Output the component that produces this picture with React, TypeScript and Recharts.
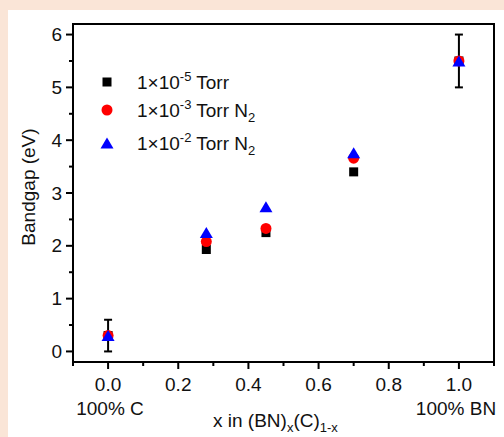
import React from "react";
import { ScatterChart, Scatter, XAxis, YAxis, ErrorBar, ReferenceArea } from "recharts";

// composition x of (BN)x(C)1-x
const xValues = [0, 0.28, 0.45, 0.7, 1.0];
const gap1e5Torr = [0.3, 1.93, 2.25, 3.4, 5.5];
const gap1e3TorrN2 = [0.3, 2.08, 2.33, 3.66, 5.5];
const gap1e2TorrN2 = [0.3, 2.25, 2.74, 3.76, 5.5];

// error bars only on the pure ends
const errX = [0, 1.0];
const errY = [0.3, 5.5];
const errSize = [0.3, 0.5];

const xTicks = [-0.1, 0, 0.1, 0.2, 0.3, 0.4, 0.5, 0.6, 0.7, 0.8, 0.9, 1.0, 1.1];
const yTicks = [0, 0.5, 1, 1.5, 2, 2.5, 3, 3.5, 4, 4.5, 5, 5.5, 6];

const toPoints = (ys: number[]) => xValues.map((x, i) => ({ x, y: ys[i] }));
const errData = errX.map((x, i) => ({ x, y: errY[i], err: errSize[i] }));

const FONT = "'Liberation Sans', Arial, sans-serif";
const INK = "#111";

const Square = ({ cx, cy }: any) => (
  <rect x={cx - 4.5} y={cy - 4.5} width={9} height={9} fill="#000" />
);
const Dot = ({ cx, cy }: any) => <circle cx={cx} cy={cy} r={5.5} fill="#ff0000" />;
const Tri = ({ cx, cy }: any) => (
  <polygon
    points={`${cx},${cy - 5.5} ${cx - 6.5},${cy + 5.5} ${cx + 6.5},${cy + 5.5}`}
    fill="#0000ff"
  />
);

const XTick = ({ x, y, payload }: any) => {
  const v = payload.value as number;
  const major = Math.round(v * 10) % 2 === 0;
  return (
    <g>
      <line x1={x} x2={x} y1={y} y2={y + (major ? 7 : 4)} stroke="#000" strokeWidth={2} />
      {major && v >= 0 && v <= 1 && (
        <text x={x} y={y + 29} textAnchor="middle" fontSize={19} fontFamily={FONT} fill={INK}>
          {v.toFixed(1)}
        </text>
      )}
    </g>
  );
};

const YTick = ({ x, y, payload }: any) => {
  const v = payload.value as number;
  const major = v % 1 === 0;
  return (
    <g>
      <line x1={x - (major ? 7 : 4)} x2={x} y1={y} y2={y} stroke="#000" strokeWidth={2} />
      {major && (
        <text x={x - 11} y={y + 6.5} textAnchor="end" fontSize={19} fontFamily={FONT} fill={INK}>
          {v}
        </text>
      )}
    </g>
  );
};

export default function App() {
  return (
    <div style={{ position: "absolute", left: 0, top: 0, width: 504, height: 437, background: "#fae5d7" }}>
      <div style={{ position: "absolute", left: 8, top: 10, right: 0, bottom: 0, background: "#fff" }} />
      <div style={{ position: "absolute", left: 0, top: 0 }}>
        <ScatterChart width={504} height={437} margin={{ top: 24, right: 10, left: 13, bottom: 45 }}>
          <XAxis
            type="number"
            dataKey="x"
            domain={[-0.1, 1.1]}
            ticks={xTicks}
            interval={0}
            allowDataOverflow
            axisLine={false}
            tickLine={false}
            tickSize={0}
            tickMargin={0}
            height={30}
            tick={<XTick />}
          />
          <YAxis
            type="number"
            dataKey="y"
            domain={[-0.2, 6.2]}
            ticks={yTicks}
            interval={0}
            allowDataOverflow
            axisLine={false}
            tickLine={false}
            tickSize={0}
            tickMargin={0}
            width={60}
            tick={<YTick />}
          />
          <ReferenceArea x1={-0.1} x2={1.1} y1={-0.2} y2={6.2} fill="none" stroke="#000" strokeWidth={2} fillOpacity={0} />
          <Scatter data={errData} shape={() => <g />} isAnimationActive={false}>
            <ErrorBar dataKey="err" direction="y" width={4} stroke="#000" strokeWidth={2} />
          </Scatter>
          <Scatter data={toPoints(gap1e5Torr)} shape={<Square />} isAnimationActive={false} />
          <Scatter data={toPoints(gap1e3TorrN2)} shape={<Dot />} isAnimationActive={false} />
          <Scatter data={toPoints(gap1e2TorrN2)} shape={<Tri />} isAnimationActive={false} />
        </ScatterChart>
      </div>
      <svg
        width={504}
        height={437}
        style={{ position: "absolute", left: 0, top: 0, pointerEvents: "none" }}
        fontFamily={FONT}
        fill={INK}
      >
        {/* legend */}
        <rect x={102.5} y={77.5} width={9} height={9} fill="#000" />
        <circle cx={107} cy={110} r={5.5} fill="#ff0000" />
        <polygon points="107,137.5 100.5,148.5 113.5,148.5" fill="#0000ff" />
        <text x={137} y={89} fontSize={19}>
          1×10<tspan fontSize={13} dy={-8}>-5</tspan>
          <tspan dy={8}> Torr</tspan>
        </text>
        <text x={137} y={117} fontSize={19}>
          1×10<tspan fontSize={13} dy={-8}>-3</tspan>
          <tspan dy={8}> Torr N</tspan>
          <tspan fontSize={13} dy={5}>2</tspan>
        </text>
        <text x={137} y={150} fontSize={19}>
          1×10<tspan fontSize={13} dy={-8}>-2</tspan>
          <tspan dy={8}> Torr N</tspan>
          <tspan fontSize={13} dy={5}>2</tspan>
        </text>
        {/* axis titles */}
        <text transform="translate(35,187) rotate(-90)" textAnchor="middle" fontSize={19}>
          Bandgap (eV)
        </text>
        <text x={110} y={415} textAnchor="middle" fontSize={19}>100% C</text>
        <text x={456} y={415} textAnchor="middle" fontSize={19}>100% BN</text>
        <text x={213} y={427} fontSize={19}>
          x in (BN)<tspan fontSize={13} dy={5}>x</tspan>
          <tspan dy={-5}>(C)</tspan>
          <tspan fontSize={13} dy={5}>1-x</tspan>
        </text>
      </svg>
    </div>
  );
}
